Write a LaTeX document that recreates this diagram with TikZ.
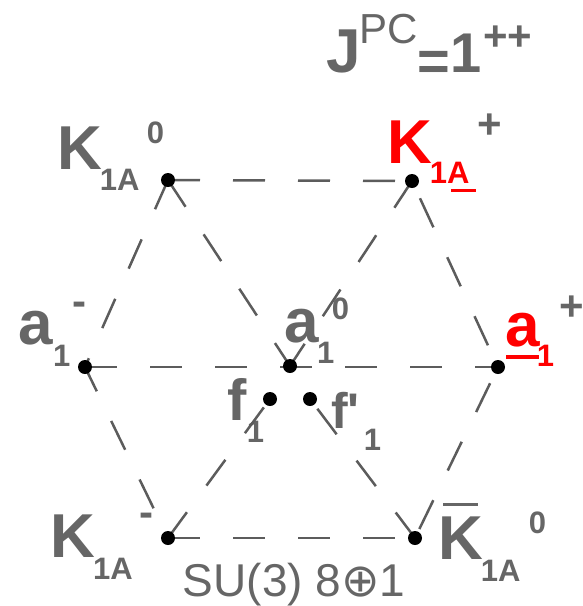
\documentclass[tikz,border=0pt]{standalone}
\usepackage{fontspec}
\setmainfont{Liberation Sans}
\newfontfamily\symfnt{DejaVu Sans}
\newfontfamily\plainfnt{Liberation Sans}
\definecolor{txtgray}{RGB}{102,102,102}
\definecolor{lngray}{RGB}{92,92,92}
\definecolor{mred}{RGB}{255,0,0}
\begin{document}
\begin{tikzpicture}[x=1pt,y=-1pt,
  dotnode/.style={circle,fill=black,inner sep=0,minimum size=14pt},
  edgeline/.style={draw=lngray,line width=2.5pt,dash pattern=on 32pt off 33pt},
  lblbig/.style={anchor=base west,inner sep=0,text=txtgray,font=\fontsize{62}{62}\selectfont\bfseries},
  lblsub/.style={anchor=base west,inner sep=0,text=txtgray,font=\fontsize{31}{31}\selectfont\bfseries},
  lblchg/.style={anchor=base west,inner sep=0,text=txtgray,font=\fontsize{42}{42}\selectfont\bfseries},
  redline/.style={draw=mred,line width=3.5pt},
]
\useasboundingbox (0,0) rectangle (583,606);
% positions
\coordinate (k0) at (168,180);
\coordinate (kp) at (412,181);
\coordinate (am) at (85,367);
\coordinate (a0) at (290,366);
\coordinate (ap) at (498,367);
\coordinate (f1) at (270,399);
\coordinate (f2) at (310,399);
\coordinate (km) at (168,538);
\coordinate (kb) at (415,538);

% title
\node[lblbig] (tJ) at (326,72) {J};
\node[anchor=base west,inner sep=0,text=txtgray,font=\fontsize{42}{42}\selectfont] (tPC) at (359,43) {PC};
\node[anchor=base west,inner sep=0,text=txtgray,font=\fontsize{56}{56}\selectfont\bfseries] (teq) at (417,80) {=};
\node[anchor=base west,inner sep=0,text=txtgray,font=\fontsize{56}{56}\selectfont\bfseries] (tone) at (450,72) {1};
\node[lblchg] (tpp) at (483,50) {++};

% K1A0
\node[lblbig] (tK0) at (57.5,169) {K};
\node[lblsub] (tK0s) at (99.6,190) {1A};
\node[lblsub] (tK0c) at (146.7,143) {0};
% K1A+
\node[lblbig,text=mred] (tKp) at (387.5,163) {K};
\node[lblsub,text=mred] (tKps) at (429.6,183) {1A};
\draw[redline,line width=3pt] (451,190) -- (476,190);
\node[lblchg] (tKpc) at (477.3,138) {+};
% a1-
\node[lblbig] (tam) at (18.5,344) {a};
\node[lblsub] (tams) at (53,366) {1};
\node[lblchg] (tamc) at (72.3,315) {-};
% a1 0
\node[lblbig] (ta0) at (283.8,342) {a};
\node[lblsub] (ta0s) at (316.8,363) {1};
\node[lblsub] (ta0c) at (331.7,319) {0};
% a1+
\node[lblbig,text=mred] (tap) at (504.8,346) {a};
\draw[redline] (506,357) -- (539,357);
\node[lblsub,text=mred] (taps) at (536.7,366) {1};
\node[lblchg] (tapc) at (559.3,320) {+};
% f1
\node[anchor=base west,inner sep=0,text=txtgray,font=\fontsize{58}{58}\selectfont\bfseries] (tf1) at (227,420) {f};
\node[lblsub] (tf1s) at (246.7,442) {1};
% f'1
\node[anchor=base west,inner sep=0,text=txtgray,font=\plainfnt\fontsize{50}{50}\selectfont\bfseries] (tf2) at (331,428) {f'};
\node[lblsub] (tf2s) at (363.7,450) {1};
% K1A0 bar
\node[lblbig] (tKb) at (438.5,559) {K};
\draw[draw=txtgray,line width=3pt] (443,504.5) -- (478,504.5);
\node[lblsub] (tKbs) at (480.6,581) {1A};
\node[lblsub] (tKbc) at (528.7,533) {0};
% K1A-
\node[lblbig] (tKm) at (50.5,557) {K};
\node[lblsub] (tKms) at (93,579) {1A};
\node[lblchg] (tKmc) at (139.3,526) {-};
% caption
\node[anchor=base west,inner sep=0,text=txtgray,font=\fontsize{46}{46}\selectfont] (tsu) at (182.7,596) {SU(3) 8{\symfnt ⊕}1};

% lines
\draw[edgeline] (k0) -- (kp);
\draw[edgeline] (k0) -- (am);
\draw[edgeline,dash phase=5pt] (am) -- (km);
\draw[edgeline] (km) -- (kb);
\draw[edgeline,dash phase=55pt] (kb) -- (ap);
\draw[edgeline,dash phase=46pt] (kp) -- (ap);
\draw[edgeline] (am) -- (ap);
\draw[edgeline] (k0) -- (a0);
\draw[edgeline] (kp) -- (a0);
\draw[edgeline] (km) -- (f1);
\draw[edgeline] (kb) -- (f2);

% dots
\foreach \p in {k0,kp,am,a0,ap,f1,f2,km,kb}
  \node[dotnode] (d\p) at (\p) {};
\end{tikzpicture}
\end{document}
